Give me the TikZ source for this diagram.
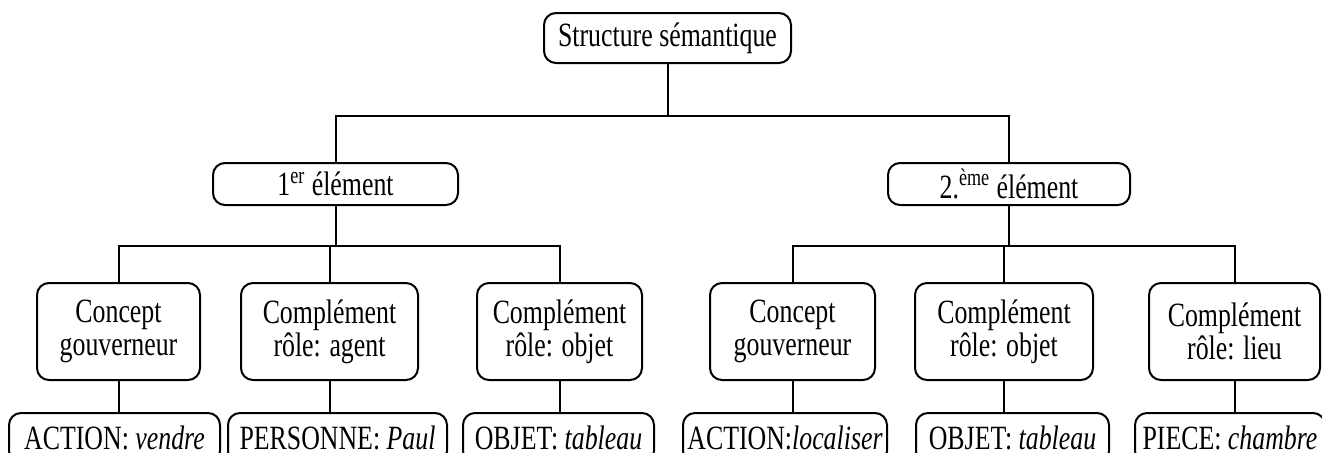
\documentclass[tikz,border=0pt]{standalone}
\usepackage{fontspec}
\setmainfont[FakeStretch=0.76]{Liberation Serif}
\usepackage{xcolor}
\usepackage{tikz}
\usetikzlibrary{positioning}

\tikzset{
  box/.style={draw, rounded corners=6pt, line width=1pt, align=center, inner sep=2pt,
    font=\fontsize{17}{16.5}\selectfont},
  link/.style={line width=1pt}
}

\begin{document}
\begin{tikzpicture}[x=0.5pt, y=-0.5pt]
  \useasboundingbox (0,0) rectangle (1322,452);
  \clip (0,0) rectangle (1322,452);

  % root
  \node[box, minimum width=123.5pt, minimum height=25pt] (root) at (667.5,38) {Structure sémantique};

  % elements
  \node[box, minimum width=122.5pt, minimum height=21pt] (elemA) at (335.5,184) {1\textsuperscript{er} élément};
  \node[box, minimum width=121pt, minimum height=21pt] (elemB) at (1009,184) {2.\textsuperscript{ème} élément};

  % concepts and complements
  \node[box, minimum width=81.5pt, minimum height=48.5pt] (govA) at (118.5,331.5) {Concept\\gouverneur};
  \node[box, minimum width=88.5pt, minimum height=48.5pt] (agtA) at (329.5,331.5) {Complément\\rôle: agent};
  \node[box, minimum width=82.5pt, minimum height=48.5pt] (objA) at (559.5,331.5) {Complément\\rôle: objet};
  \node[box, minimum width=82.5pt, minimum height=48.5pt] (govB) at (792.5,331.5) {Concept\\gouverneur};
  \node[box, minimum width=89pt, minimum height=48.5pt] (objB) at (1004,331.5) {Complément\\rôle: objet};
  \node[box, minimum width=85.5pt, minimum height=48.5pt] (locB) at (1234.5,331.5) {Complément\\rôle: lieu};

  % values
  \node[box, minimum width=105.5pt, minimum height=25pt] (valA) at (114.5,438) {ACTION: \textit{vendre}};
  \node[box, minimum width=109.5pt, minimum height=25pt] (valB) at (337.5,438) {PERSONNE: \textit{Paul}};
  \node[box, minimum width=95.5pt, minimum height=25pt] (valC) at (558.5,438) {OBJET: \textit{tableau}};
  \node[box, minimum width=102pt, minimum height=25pt] (valD) at (785,438) {ACTION:\textit{localiser}};
  \node[box, minimum width=96.5pt, minimum height=25pt] (valE) at (1012.5,438) {OBJET: \textit{tableau}};
  \node[box, minimum width=95pt, minimum height=25pt] (valF) at (1230,438) {PIECE: \textit{chambre}};

  % tree links
  \draw[link] (root.south) -- ++(0,52) -| (elemA.north);
  \draw[link] (root.south) -- ++(0,52) -| (elemB.north);
  \foreach \c in {govA,agtA,objA} {
    \draw[link] (elemA.south) -- ++(0,40) -| (\c.north);
  }
  \foreach \c in {govB,objB,locB} {
    \draw[link] (elemB.south) -- ++(0,40) -| (\c.north);
  }
  \foreach \c/\v in {govA/valA,agtA/valB,objA/valC,govB/valD,objB/valE,locB/valF} {
    \draw[link] (\c.south) -- (\c.south |- \v.north);
  }
\end{tikzpicture}
\end{document}
